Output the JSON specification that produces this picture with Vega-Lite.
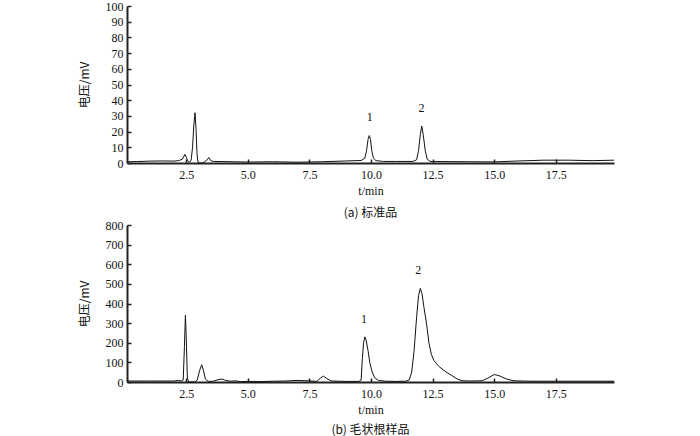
{
  "$schema": "https://vega.github.io/schema/vega-lite/v6.json",
  "background": "white",
  "padding": {"left": 78, "top": 0, "right": 5, "bottom": 0},
  "spacing": 0,
  "config": {
    "view": {"stroke": null},
    "font": "Liberation Serif, Times New Roman, serif",
    "axis": {
      "grid": false,
      "domainColor": "#222",
      "domainWidth": 2,
      "tickColor": "#222",
      "tickWidth": 1.5,
      "tickSize": -4,
      "labelOverlap": false,
      "labelFont": "Liberation Serif, Times New Roman, serif",
      "labelFontSize": 12,
      "labelColor": "#111",
      "titleFontWeight": "normal",
      "titleColor": "#111",
      "titleFontSize": 12
    },
    "title": {"font": "Noto Sans CJK SC", "fontSize": 12, "fontWeight": "normal", "color": "#111"}
  },
  "datasets": {
    "std": [
      {"t": 0.1, "v": 0.8}, {"t": 0.5, "v": 0.9}, {"t": 1.0, "v": 1.2}, {"t": 1.5, "v": 1.3}, {"t": 2.0, "v": 1.2},
      {"t": 2.2, "v": 1.5}, {"t": 2.35, "v": 2.5}, {"t": 2.45, "v": 5.5}, {"t": 2.52, "v": 3}, {"t": 2.58, "v": 1},
      {"t": 2.62, "v": 0.5}, {"t": 2.7, "v": 1.5}, {"t": 2.76, "v": 10}, {"t": 2.81, "v": 24}, {"t": 2.86, "v": 32},
      {"t": 2.9, "v": 22}, {"t": 2.94, "v": 6}, {"t": 2.98, "v": 0.5}, {"t": 3.05, "v": 0}, {"t": 3.15, "v": 0},
      {"t": 3.25, "v": 0.8}, {"t": 3.35, "v": 2}, {"t": 3.42, "v": 3.5}, {"t": 3.5, "v": 1.5}, {"t": 3.6, "v": 1},
      {"t": 4.0, "v": 0.9}, {"t": 5.0, "v": 0.6}, {"t": 6.0, "v": 0.8}, {"t": 7.0, "v": 0.5}, {"t": 8.0, "v": 0.8},
      {"t": 9.0, "v": 1.3}, {"t": 9.6, "v": 1.6}, {"t": 9.75, "v": 3}, {"t": 9.82, "v": 8}, {"t": 9.88, "v": 15},
      {"t": 9.93, "v": 17.5}, {"t": 9.98, "v": 15}, {"t": 10.03, "v": 8}, {"t": 10.1, "v": 3}, {"t": 10.2, "v": 1.5},
      {"t": 10.5, "v": 1.0}, {"t": 11.0, "v": 1.0}, {"t": 11.7, "v": 1.0}, {"t": 11.85, "v": 2}, {"t": 11.93, "v": 8},
      {"t": 12.0, "v": 18}, {"t": 12.06, "v": 23.5}, {"t": 12.12, "v": 18}, {"t": 12.2, "v": 8}, {"t": 12.28, "v": 2.5},
      {"t": 12.4, "v": 1}, {"t": 13.0, "v": 0.9}, {"t": 14.0, "v": 0.8}, {"t": 15.0, "v": 0.7}, {"t": 16.0, "v": 1.3},
      {"t": 17.0, "v": 1.8}, {"t": 18.0, "v": 1.8}, {"t": 19.0, "v": 1.5}, {"t": 19.86, "v": 1.8}
    ],
    "sample": [
      {"t": 0.1, "v": 5}, {"t": 1.0, "v": 5}, {"t": 2.0, "v": 5}, {"t": 2.2, "v": 8}, {"t": 2.3, "v": 5},
      {"t": 2.38, "v": 10}, {"t": 2.43, "v": 180}, {"t": 2.47, "v": 340}, {"t": 2.51, "v": 200}, {"t": 2.55, "v": 20},
      {"t": 2.6, "v": 0}, {"t": 2.7, "v": 0}, {"t": 2.85, "v": 0}, {"t": 2.95, "v": 10}, {"t": 3.05, "v": 60},
      {"t": 3.13, "v": 88}, {"t": 3.2, "v": 60}, {"t": 3.28, "v": 15}, {"t": 3.4, "v": 3}, {"t": 3.6, "v": 4},
      {"t": 3.8, "v": 12}, {"t": 3.95, "v": 15}, {"t": 4.1, "v": 8}, {"t": 4.3, "v": 4}, {"t": 4.5, "v": 6},
      {"t": 4.7, "v": 2}, {"t": 5.0, "v": 3}, {"t": 5.5, "v": 2}, {"t": 6.0, "v": 4}, {"t": 6.5, "v": 5},
      {"t": 7.0, "v": 8}, {"t": 7.5, "v": 6}, {"t": 7.8, "v": 3}, {"t": 7.95, "v": 20}, {"t": 8.07, "v": 30},
      {"t": 8.2, "v": 18}, {"t": 8.4, "v": 5}, {"t": 9.0, "v": 3}, {"t": 9.5, "v": 3}, {"t": 9.6, "v": 10},
      {"t": 9.65, "v": 120}, {"t": 9.7, "v": 200}, {"t": 9.75, "v": 230}, {"t": 9.8, "v": 215}, {"t": 9.88, "v": 160},
      {"t": 9.95, "v": 100}, {"t": 10.05, "v": 50}, {"t": 10.15, "v": 22}, {"t": 10.3, "v": 8}, {"t": 10.6, "v": 4},
      {"t": 11.0, "v": 3}, {"t": 11.4, "v": 4}, {"t": 11.55, "v": 10}, {"t": 11.65, "v": 50}, {"t": 11.75, "v": 160},
      {"t": 11.85, "v": 330}, {"t": 11.93, "v": 440}, {"t": 12.0, "v": 477}, {"t": 12.07, "v": 450}, {"t": 12.15, "v": 380},
      {"t": 12.25, "v": 300}, {"t": 12.35, "v": 200}, {"t": 12.45, "v": 140}, {"t": 12.55, "v": 110}, {"t": 12.75, "v": 80},
      {"t": 13.0, "v": 55}, {"t": 13.25, "v": 35}, {"t": 13.5, "v": 15}, {"t": 13.7, "v": 6}, {"t": 14.0, "v": 5},
      {"t": 14.5, "v": 6}, {"t": 14.75, "v": 20}, {"t": 15.0, "v": 38}, {"t": 15.2, "v": 32}, {"t": 15.5, "v": 15},
      {"t": 15.8, "v": 6}, {"t": 16.5, "v": 4}, {"t": 17.5, "v": 4}, {"t": 19.0, "v": 4}, {"t": 19.86, "v": 4}
    ],
    "stdLabels": [{"t": 9.95, "v": 25, "label": "1"}, {"t": 12.05, "v": 30.5, "label": "2"}],
    "sampleLabels": [{"t": 9.72, "v": 285, "label": "1"}, {"t": 11.92, "v": 535, "label": "2"}]
  },
  "vconcat": [
    {
      "width": 487,
      "height": 157,
      "title": {"text": "(a) 标准品", "orient": "bottom", "offset": 12},
      "layer": [
        {
          "data": {"name": "std"},
          "mark": {"type": "line", "color": "#111", "strokeWidth": 1},
          "encoding": {
            "x": {"field": "t", "type": "quantitative", "scale": {"domain": [0.1, 19.86], "nice": false, "zero": false},
                  "axis": {"values": [2.5, 5, 7.5, 10, 12.5, 15, 17.5], "tickCount": 20, "format": ".1f", "title": "t/min", "titleY": 22, "titleBaseline": "top", "labelOverlap": false, "labelPadding": 10}},
            "y": {"field": "v", "type": "quantitative", "scale": {"domain": [0, 100], "nice": false},
                  "axis": {"values": [0, 10, 20, 30, 40, 50, 60, 70, 80, 90, 100], "tickCount": 20, "title": "电压/mV", "titleFont": "Noto Sans CJK SC", "labelOverlap": false, "titlePadding": 14, "labelPadding": 8}}
          }
        },
        {
          "data": {"name": "stdLabels"},
          "mark": {"type": "text", "fontSize": 12, "color": "#111", "baseline": "bottom"},
          "encoding": {
            "x": {"field": "t", "type": "quantitative"},
            "y": {"field": "v", "type": "quantitative"},
            "text": {"field": "label"}
          }
        }
      ]
    },
    {
      "width": 487,
      "height": 157,
      "title": {"text": "(b) 毛状根样品", "orient": "bottom", "offset": 10},
      "layer": [
        {
          "data": {"name": "sample"},
          "mark": {"type": "line", "color": "#111", "strokeWidth": 1},
          "encoding": {
            "x": {"field": "t", "type": "quantitative", "scale": {"domain": [0.1, 19.86], "nice": false, "zero": false},
                  "axis": {"values": [2.5, 5, 7.5, 10, 12.5, 15, 17.5], "tickCount": 20, "format": ".1f", "title": "t/min", "titleY": 22, "titleBaseline": "top", "labelOverlap": false, "labelPadding": 10}},
            "y": {"field": "v", "type": "quantitative", "scale": {"domain": [0, 800], "nice": false},
                  "axis": {"values": [0, 100, 200, 300, 400, 500, 600, 700, 800], "tickCount": 20, "title": "电压/mV", "titleFont": "Noto Sans CJK SC", "labelOverlap": false, "titlePadding": 14, "labelPadding": 8}}
          }
        },
        {
          "data": {"name": "sampleLabels"},
          "mark": {"type": "text", "fontSize": 12, "color": "#111", "baseline": "bottom"},
          "encoding": {
            "x": {"field": "t", "type": "quantitative"},
            "y": {"field": "v", "type": "quantitative"},
            "text": {"field": "label"}
          }
        }
      ]
    }
  ]
}
